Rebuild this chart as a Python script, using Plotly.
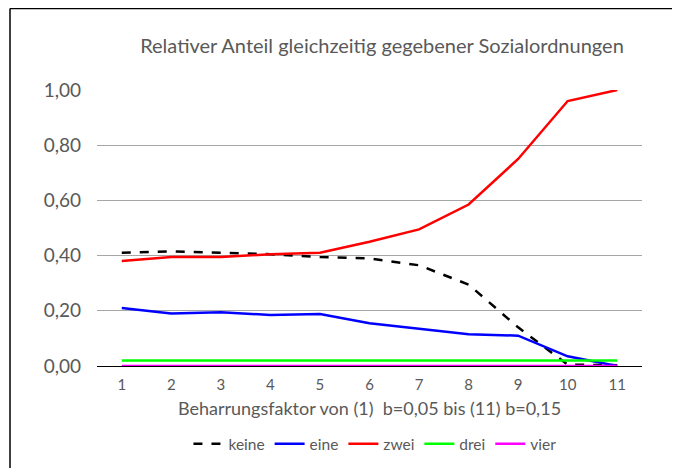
import plotly.graph_objects as go

categories = [1, 2, 3, 4, 5, 6, 7, 8, 9, 10, 11]
keine = [0.41, 0.415, 0.41, 0.405, 0.395, 0.39, 0.365, 0.295, 0.14, 0.005, 0.003]
eine = [0.21, 0.19, 0.195, 0.185, 0.188, 0.155, 0.135, 0.115, 0.11, 0.035, 0.0]
zwei = [0.38, 0.395, 0.395, 0.405, 0.41, 0.45, 0.495, 0.585, 0.75, 0.96, 1.0]
drei = [0.02] * 11
vier = [0.0] * 11

series = [
    ("keine", keine, "#000000", "dash"),
    ("eine", eine, "#0000FF", "solid"),
    ("zwei", zwei, "#FF0000", "solid"),
    ("drei", drei, "#00FF00", "solid"),
    ("vier", vier, "#FF00FF", "solid"),
]

FONT = "Lato"
GREY = "#595959"
FIG_W, FIG_H = 672, 460
PLOT_W = 545
PLOT_H = 276
ML, MT = 89, 82

fig = go.Figure()
for name, vals, col, dash in series:
    fig.add_trace(go.Scatter(
        x=categories, y=vals, name=name, mode="lines",
        line=dict(color=col, width=2.5, dash=dash),
        cliponaxis=False,
    ))

fig.update_layout(
    width=FIG_W, height=FIG_H,
    margin=dict(l=ML, r=FIG_W - ML - PLOT_W, t=MT, b=FIG_H - MT - PLOT_H,
                autoexpand=False),
    paper_bgcolor="white", plot_bgcolor="white",
    separators=",.",
    font=dict(family=FONT, color=GREY),
    title=dict(text="Relativer Anteil gleichzeitig gegebener Sozialordnungen",
               x=(374) / FIG_W, xanchor="center", y=1 - 38 / FIG_H, yanchor="middle",
               font=dict(size=20, color=GREY, family=FONT)),
    xaxis=dict(
        range=[0.5, 11.5], tickmode="array", tickvals=categories,
        ticktext=[str(c) for c in categories],
        showgrid=False, zeroline=False, showline=False, ticks="",
        ticklabelstandoff=8,
        tickfont=dict(size=15, color=GREY),
        title=dict(text="Beharrungsfaktor von (1)  b=0,05 bis (11) b=0,15",
                   font=dict(size=18, color=GREY), standoff=10),
    ),
    yaxis=dict(
        range=[0, 1.0], tickvals=[0, 0.2, 0.4, 0.6, 0.8, 1.0],
        tickformat=".2f", showgrid=True, gridcolor="#A6A6A6", gridwidth=1,
        zeroline=True, zerolinecolor="#000000", zerolinewidth=1,
        showline=False, ticks="", ticklen=0, ticklabelstandoff=15,
        tickfont=dict(size=19, color=GREY),
    ),
    legend=dict(orientation="h", x=0.51, xanchor="center", y=-0.283, yanchor="middle",
                font=dict(size=15.5, color=GREY), itemwidth=30,
                tracegroupgap=0, bgcolor="rgba(0,0,0,0)"),
    showlegend=True,
)

fx = (2 - ML) / PLOT_W
fy = 1.0 + (MT - 0.5) / PLOT_H
fig.add_shape(type="line", xref="paper", yref="paper",
              x0=fx, x1=1.3, y0=fy, y1=fy,
              line=dict(color="#000000", width=1.5))
fig.add_shape(type="line", xref="paper", yref="paper",
              x0=fx, x1=fx, y0=-0.5, y1=fy,
              line=dict(color="#000000", width=1.5))

fig.write_html("out.html")
